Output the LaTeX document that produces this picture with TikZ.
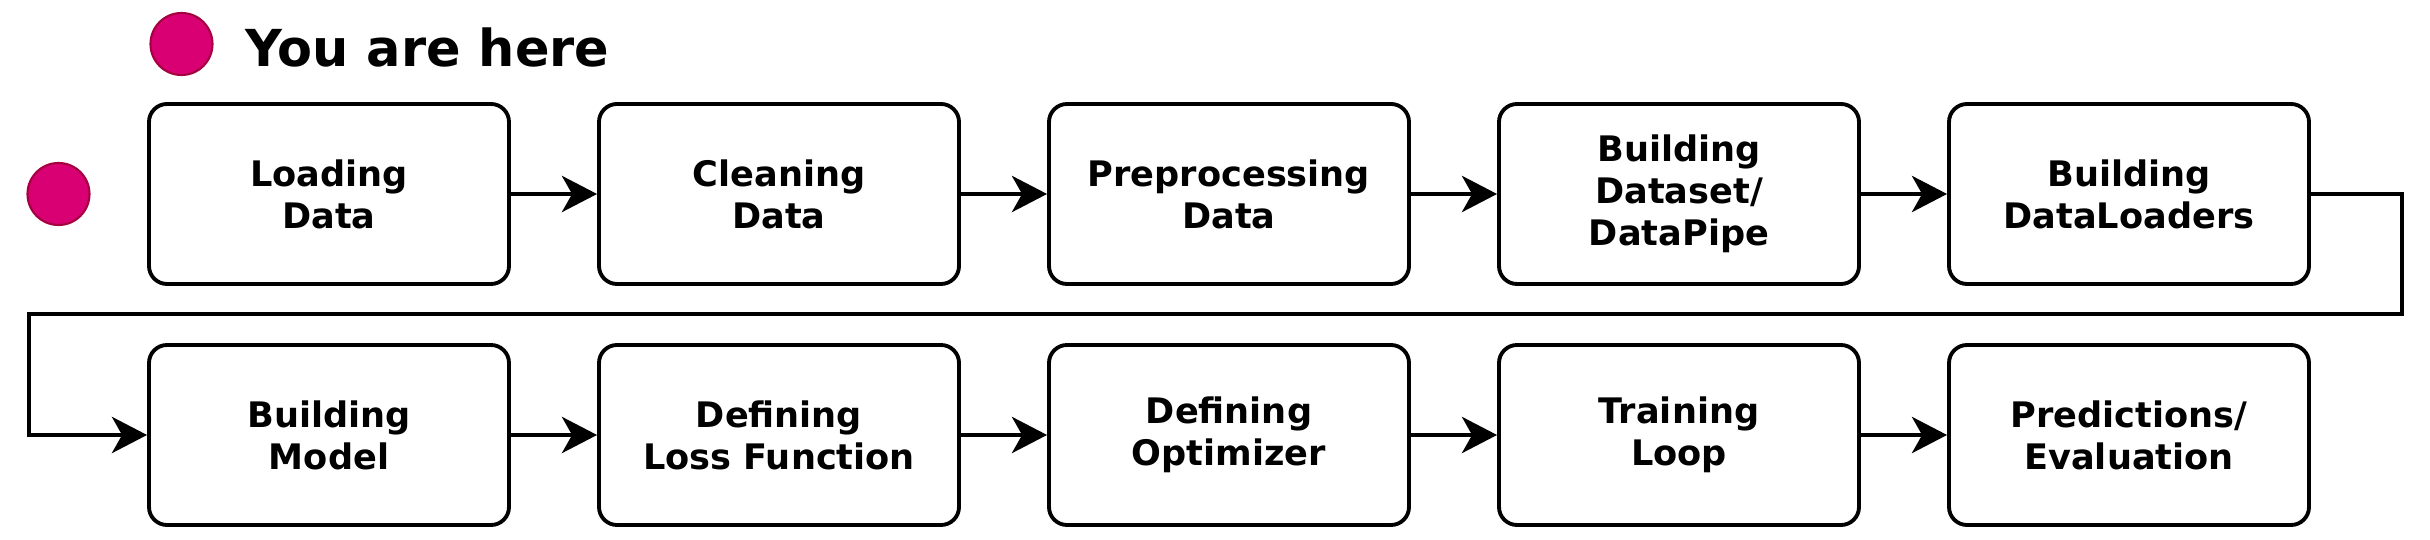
\documentclass[tikz,border=0pt]{standalone}
\usepackage{fontspec}
\setmainfont{DejaVu Sans}
\usetikzlibrary{arrows.meta}
\definecolor{dotfill}{HTML}{D80073}
\definecolor{dotline}{HTML}{A50040}

\begin{document}
\begin{tikzpicture}[
    stage/.style={draw, line width=1.1pt, rounded corners=0.18cm, minimum width=3.6cm, minimum height=1.8cm, align=center, font=\fontsize{10}{12}\selectfont\bfseries},
    flow/.style={line width=1.4pt, -{Stealth[length=3.5mm, width=3.6mm, inset=1mm]}},
    dot/.style={circle, draw=dotline, line width=0.6pt, fill=dotfill, minimum size=0.62cm, inner sep=0pt}]
        \useasboundingbox (0, 0) rectangle (24.3, 5.4);

        \node[dot] (k) at (1.815, 4.96) {};
        \node[anchor=base west, inner sep=0pt, font=\fontsize{14.5}{17}\selectfont\bfseries] (t) at (2.45, 4.73) {You are here};
        \node[dot] (h) at (0.585, 3.46) {};

        % first row
        \node[stage] (a) at (3.29, 3.46) {Loading\\Data};
        \node[stage] (b) at (7.79, 3.46) {Cleaning\\Data};
        \node[stage] (c) at (12.29, 3.46) {Preprocessing\\Data};
        \node[stage] (d) at (16.79, 3.46) {Building\\Dataset/\\DataPipe};
        \node[stage] (e) at (21.29, 3.46) {Building\\DataLoaders};

        % second row
        \node[stage] (f) at (3.29, 1.05) {Building\\Model};
        \node[stage] (g) at (7.79, 1.05) {Defining\\Loss Function};
        \node[stage] (o) at (12.29, 1.05) {Defining\\Optimizer};
        \node[stage] (l) at (16.79, 1.05) {Training\\Loop};
        \node[stage] (p) at (21.29, 1.05) {Predictions/\\Evaluation};

        \coordinate (r) at (24.02, 2.26);
        \coordinate (s) at (0.29, 2.26);

        \draw[flow] (a) -- (b);
        \draw[flow] (b) -- (c);
        \draw[flow] (c) -- (d);
        \draw[flow] (d) -- (e);
        \draw[flow] (e.east) -| (r) -- (s) |- (f.west);
        \draw[flow] (f) -- (g);
        \draw[flow] (g) -- (o);
        \draw[flow] (o) -- (l);
        \draw[flow] (l) -- (p);

    \end{tikzpicture}
\end{document}
